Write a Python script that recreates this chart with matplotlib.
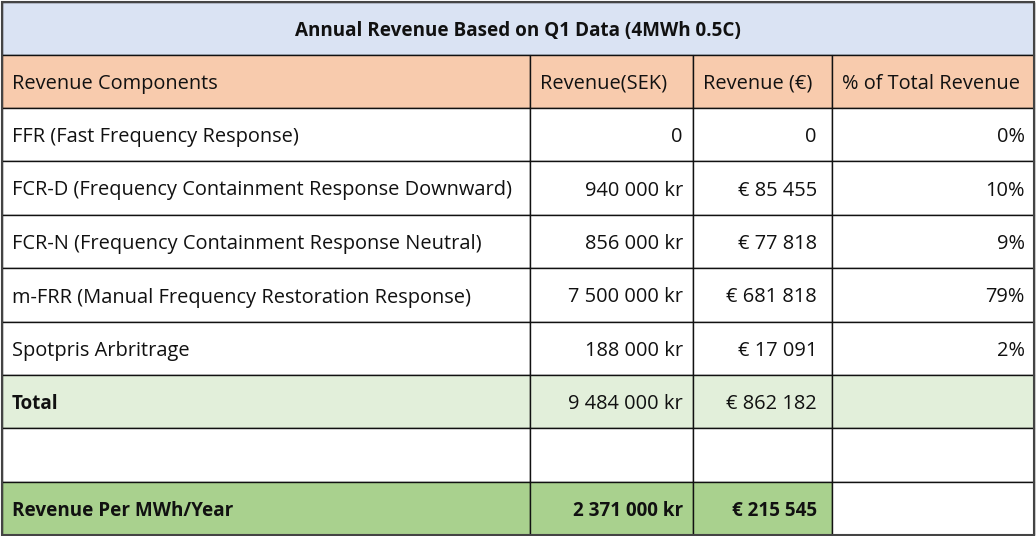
import matplotlib.pyplot as plt
from matplotlib.patches import Rectangle

# 표 데이터
title = "Annual Revenue Based on Q1 Data (4MWh 0.5C)"
headers = ["Revenue Components", "Revenue(SEK)", "Revenue (€)", "% of Total Revenue"]
components = [
    "FFR (Fast Frequency Response)",
    "FCR-D (Frequency Containment Response Downward)",
    "FCR-N (Frequency Containment Response Neutral)",
    "m-FRR (Manual Frequency Restoration Response)",
    "Spotpris Arbritrage",
]
revenue_sek = ["0", "940 000 kr", "856 000 kr", "7 500 000 kr", "188 000 kr"]
revenue_eur = ["0", "€ 85 455", "€ 77 818", "€ 681 818", "€ 17 091"]
share = ["0%", "10%", "9%", "79%", "2%"]
total_row = ["Total", "9 484 000 kr", "€ 862 182", ""]
per_mwh_row = ["Revenue Per MWh/Year", "2 371 000 kr", "€ 215 545", ""]

# 레이아웃 (픽셀 단위)
W, H = 1036, 536
col_x = [2, 530, 693, 832, 1034]
row_y = [2, 55, 108, 161, 215, 268, 322, 375, 428, 482, 535]
pad_right = [0, 10, 15, 9]  # 열별 오른쪽 여백

C_TITLE = "#dae3f3"
C_HEAD = "#f8cbad"
C_TOTAL = "#e2efda"
C_PER = "#a9d18e"
FONT = "Open Sans"
FS = 14.4
FS_BOLD = 13.6

fig = plt.figure(figsize=(W / 100, H / 100), dpi=100)
ax = fig.add_axes([0, 0, 1, 1])
ax.set_xlim(0, W)
ax.set_ylim(H, 0)
ax.axis("off")


def cell(c0, c1, r, color, text="", align="right", bold=False):
    x0, x1 = col_x[c0], col_x[c1]
    y0, y1 = row_y[r], row_y[r + 1]
    ax.add_patch(Rectangle((x0, y0), x1 - x0, y1 - y0, facecolor=color,
                           edgecolor="#111111", linewidth=1.0))
    if not text:
        return
    yc = (y0 + y1) / 2
    kw = dict(va="center_baseline", family=FONT, color="#111111",
              fontsize=FS_BOLD if bold else FS, weight="bold" if bold else "normal")
    if align == "left":
        ax.text(x0 + 10, yc, text, ha="left", **kw)
    elif align == "center":
        ax.text((x0 + x1) / 2, yc, text, ha="center", **kw)
    else:
        ax.text(x1 - pad_right[c0], yc, text, ha="right", **kw)


# 제목 행
cell(0, 4, 0, C_TITLE, title, align="center", bold=True)

# 헤더 행
for i, h in enumerate(headers):
    cell(i, i + 1, 1, C_HEAD, h, align="left")

# 데이터 행
for r, (name, sek, eur, pct) in enumerate(zip(components, revenue_sek, revenue_eur, share)):
    row = r + 2
    cell(0, 1, row, "white", name, align="left")
    cell(1, 2, row, "white", sek)
    cell(2, 3, row, "white", eur)
    cell(3, 4, row, "white", pct)

# 합계 행
cell(0, 1, 7, C_TOTAL, total_row[0], align="left", bold=True)
cell(1, 2, 7, C_TOTAL, total_row[1])
cell(2, 3, 7, C_TOTAL, total_row[2])
cell(3, 4, 7, C_TOTAL, total_row[3])

# 빈 행
for i in range(4):
    cell(i, i + 1, 8, "white")

# MWh당 수익 행
cell(0, 1, 9, C_PER, per_mwh_row[0], align="left", bold=True)
cell(1, 2, 9, C_PER, per_mwh_row[1], bold=True)
cell(2, 3, 9, C_PER, per_mwh_row[2], bold=True)
cell(3, 4, 9, "white", per_mwh_row[3])

# 바깥 테두리
ax.add_patch(Rectangle((col_x[0], row_y[0]), col_x[-1] - col_x[0], row_y[-1] - row_y[0],
                       fill=False, edgecolor="#444444", linewidth=1.5))

plt.savefig("out.png", dpi=100)
